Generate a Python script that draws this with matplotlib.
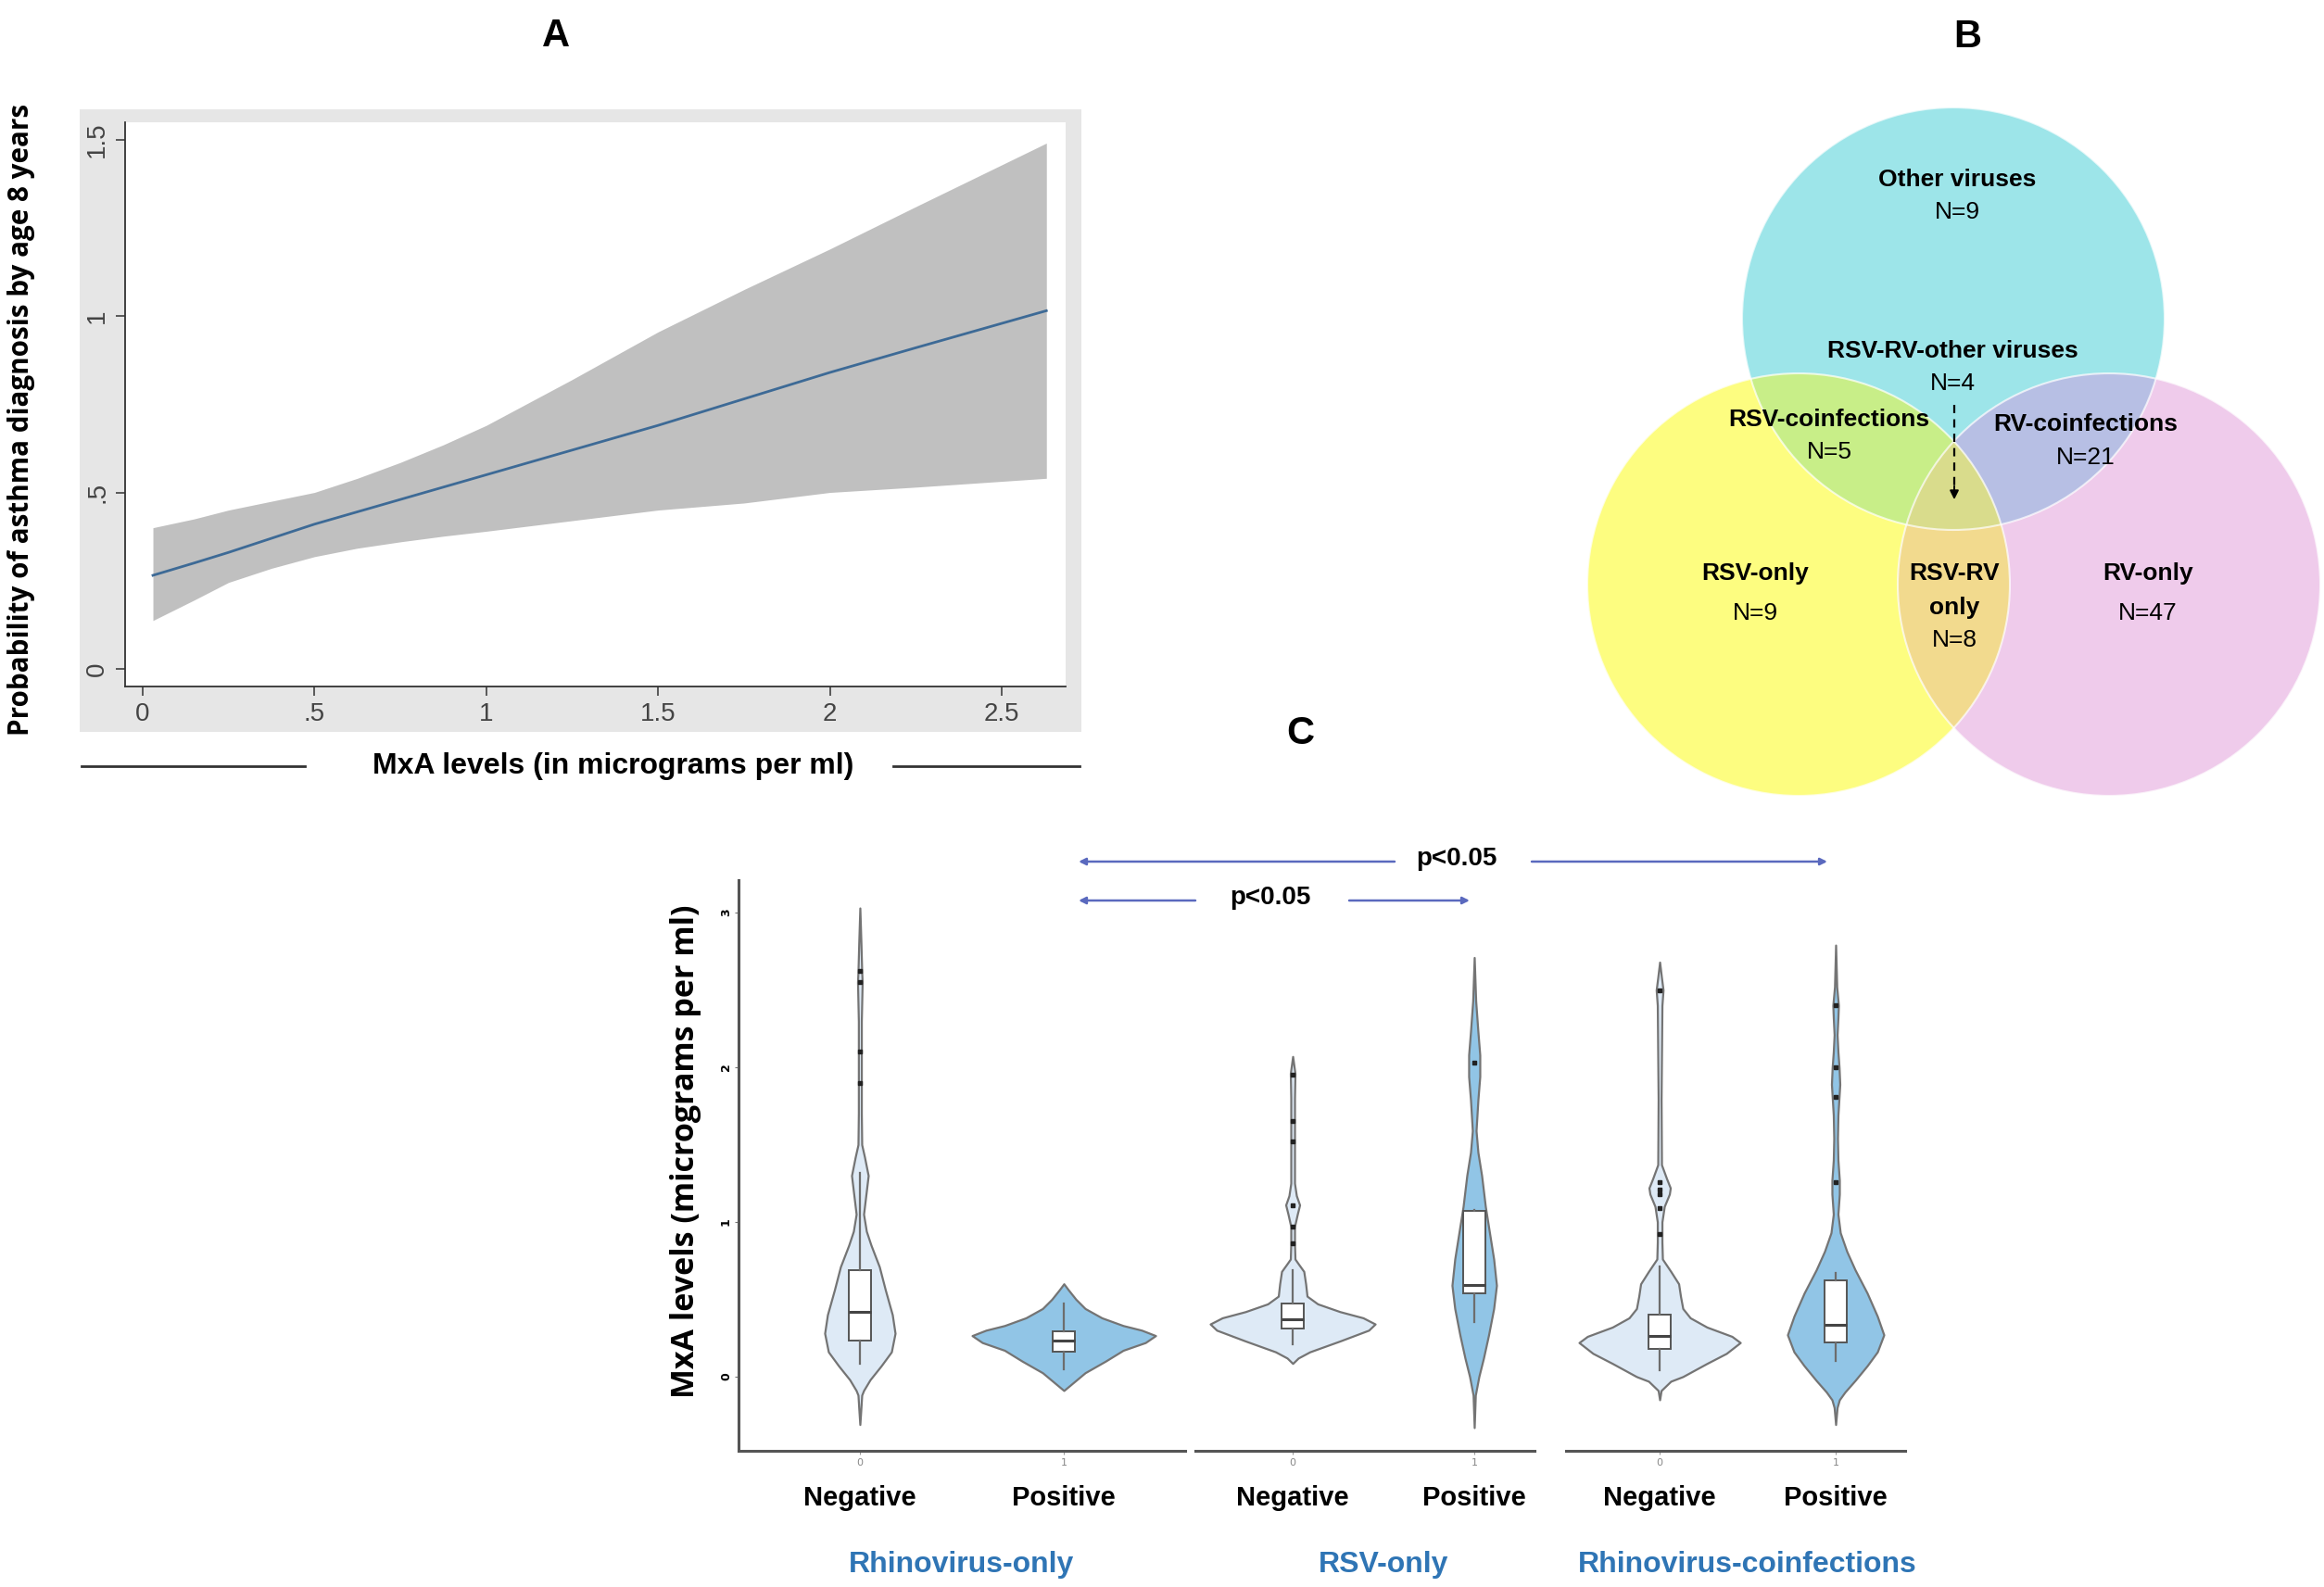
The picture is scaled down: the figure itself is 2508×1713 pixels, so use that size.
import numpy as np
import matplotlib
matplotlib.use("Agg")
import matplotlib.pyplot as plt
from matplotlib import font_manager
from matplotlib.patches import Rectangle, Circle, Polygon

W, H = 2508, 1713
DPI = 100

_names = {f.name for f in font_manager.fontManager.ttflist}
NARROW = "Liberation Sans Narrow" if "Liberation Sans Narrow" in _names else "Liberation Sans"
WIDE = "Open Sans"

# ---------------- panel A: predicted probability vs MxA ----------------
mxa_x = [0.03, 0.15, 0.25, 0.375, 0.5, 0.625, 0.75, 0.875, 1.0, 1.25, 1.5, 1.75, 2.0, 2.25, 2.63]
prob_fit = [0.265, 0.30, 0.33, 0.37, 0.41, 0.445, 0.48, 0.515, 0.55, 0.62, 0.69, 0.765, 0.84,
            0.91, 1.015]
prob_hi = [0.40, 0.425, 0.45, 0.475, 0.50, 0.54, 0.585, 0.635, 0.69, 0.82, 0.955, 1.075, 1.19,
           1.31, 1.49]
prob_lo = [0.137, 0.195, 0.245, 0.285, 0.318, 0.342, 0.36, 0.376, 0.39, 0.42, 0.45, 0.47, 0.50,
           0.515, 0.54]
a_xticks = [0, 0.5, 1, 1.5, 2, 2.5]
a_xticklabels = ["0", ".5", "1", "1.5", "2", "2.5"]
a_yticks = [0, 0.5, 1, 1.5]
a_yticklabels = ["0", ".5", "1", "1.5"]

# ---------------- panel B: Venn counts ----------------
venn_labels = [
    (["Other viruses"], "N=9"),
    (["RSV-RV-other viruses"], "N=4"),
    (["RSV-coinfections"], "N=5"),
    (["RV-coinfections"], "N=21"),
    (["RSV-only"], "N=9"),
    (["RSV-RV", "only"], "N=8"),
    (["RV-only"], "N=47"),
]

# ---------------- panel C: violins (value, half-width in px) ----------------
groups = ["Rhinovirus-only", "RSV-only", "Rhinovirus-coinfections"]
status = ["Negative", "Positive"]

rv_neg_y = [-0.31, -0.20, -0.12, -0.09, -0.02, 0.07, 0.16, 0.28, 0.40, 0.56, 0.71, 0.85, 0.94,
            1.05, 1.15, 1.30, 1.42, 1.50, 1.70, 2.00, 2.30, 2.55, 2.62, 2.80, 3.03]
rv_neg_w = [0, 1.2, 2, 4, 11, 23, 34, 38, 35, 27.5, 21, 12, 7, 4, 6, 9, 5, 2, 1.6, 1.6, 1.6,
            2.5, 2, 1.2, 0]
rv_pos_y = [-0.09, -0.06, 0.025, 0.10, 0.17, 0.22, 0.265, 0.30, 0.33, 0.38, 0.44, 0.50, 0.56, 0.60]
rv_pos_w = [0, 6, 23, 45, 64, 88, 99, 84, 64, 41, 23, 13, 5, 0]
rsv_neg_y = [0.085, 0.12, 0.16, 0.23, 0.30, 0.34, 0.38, 0.42, 0.47, 0.52, 0.60, 0.68, 0.73, 0.76,
             0.86, 0.97, 1.05, 1.11, 1.17, 1.25, 1.55, 1.80, 1.96, 2.07]
rsv_neg_w = [0, 6, 18.5, 51, 82, 89, 76, 51, 27, 15.5, 14, 12, 6, 2.5, 2, 2, 5, 7.5, 4, 2, 2, 2,
             2.5, 0]
rsv_pos_y = [-0.33, -0.12, 0.0, 0.12, 0.27, 0.44, 0.59, 0.76, 0.93, 1.10, 1.30, 1.45, 1.59, 1.79,
             1.94, 2.08, 2.23, 2.43, 2.71]
rsv_pos_w = [0, 1.2, 5, 10, 15.5, 21, 24, 21, 16.5, 12, 8, 4, 2, 4, 6, 6, 4, 1.6, 0]
co_neg_y = [-0.15, -0.09, -0.03, 0.0, 0.085, 0.15, 0.22, 0.26, 0.32, 0.38, 0.44, 0.52, 0.60, 0.68,
            0.76, 0.87, 1.00, 1.10, 1.18, 1.22, 1.28, 1.37, 1.79, 2.40, 2.50, 2.58, 2.68]
co_neg_w = [0, 1.6, 12, 25, 51, 72, 87, 78, 51, 33, 25, 22.5, 20.5, 12, 3, 2.5, 2.5, 5, 10.5,
            11.5, 7.5, 2, 1.6, 2.5, 3.7, 2, 0]
co_pos_y = [-0.31, -0.20, -0.15, -0.10, -0.025, 0.07, 0.16, 0.27, 0.39, 0.54, 0.69, 0.81, 0.93,
            1.05, 1.18, 1.27, 1.40, 1.54, 1.69, 1.81, 1.89, 2.00, 2.10, 2.21, 2.32, 2.40, 2.52, 2.79]
co_pos_w = [0, 1.6, 4, 10, 21, 34, 45, 52, 45, 34, 21, 12, 5, 2.5, 4, 4, 2.5, 2, 2.5, 3.7, 4.5,
            3.7, 2.5, 1.6, 2.5, 3, 1.2, 0]

# box stats: q1, median, q3, lower whisker, upper whisker
rv_neg_box = (0.23, 0.42, 0.69, 0.085, 1.32)
rv_pos_box = (0.16, 0.23, 0.29, 0.05, 0.47)
rsv_neg_box = (0.31, 0.37, 0.47, 0.21, 0.69)
rsv_pos_box = (0.54, 0.59, 1.07, 0.355, 1.08)
co_neg_box = (0.18, 0.26, 0.40, 0.04, 0.71)
co_pos_box = (0.22, 0.335, 0.62, 0.10, 0.67)

rv_neg_out = [1.90, 2.10, 2.55, 2.62]
rv_pos_out = []
rsv_neg_out = [0.86, 0.97, 1.11, 1.52, 1.65, 1.95]
rsv_pos_out = [2.03]
co_neg_out = [0.92, 1.09, 1.18, 1.21, 1.26, 2.50]
co_pos_out = [1.26, 1.81, 2.00, 2.40]

violins = [
    [(rv_neg_y, rv_neg_w, rv_neg_box, rv_neg_out), (rv_pos_y, rv_pos_w, rv_pos_box, rv_pos_out)],
    [(rsv_neg_y, rsv_neg_w, rsv_neg_box, rsv_neg_out), (rsv_pos_y, rsv_pos_w, rsv_pos_box, rsv_pos_out)],
    [(co_neg_y, co_neg_w, co_neg_box, co_neg_out), (co_pos_y, co_pos_w, co_pos_box, co_pos_out)],
]
c_yticks = [0, 1, 2, 3]


fig = plt.figure(figsize=(W / DPI, H / DPI), dpi=DPI)

# full-figure canvas in pixel coordinates (top-left origin)
canvas = fig.add_axes([0, 0, 1, 1])
canvas.set_xlim(0, W)
canvas.set_ylim(H, 0)
canvas.axis("off")
canvas.set_zorder(-1)


def px_axes(x0, y0, x1, y1):
    return fig.add_axes([x0 / W, 1 - y1 / H, (x1 - x0) / W, (y1 - y0) / H])


def label(x, y, s, size, family=NARROW, weight="bold", color="black", **kw):
    canvas.text(x, y, s, ha="center", va="center", fontsize=size, family=family,
                fontweight=weight, color=color, **kw)


# ---------------- panel A ----------------
canvas.add_patch(Rectangle((86, 118), 1081, 672, facecolor="#e6e6e6", edgecolor="none"))
axA = px_axes(135, 132, 1150, 741)
axA.set_facecolor("white")
axA.fill_between(mxa_x, prob_lo, prob_hi, color="#c0c0c0", lw=0)
axA.plot(mxa_x, prob_fit, color="#3d6a96", lw=2)
axA.set_xlim(-0.051, 2.686)
axA.set_ylim(-0.050, 1.549)
for s in ["top", "right"]:
    axA.spines[s].set_visible(False)
for s in ["left", "bottom"]:
    axA.spines[s].set_color("#333333")
    axA.spines[s].set_linewidth(1.3)
axA.set_xticks(a_xticks, a_xticklabels)
axA.set_yticks(a_yticks, a_yticklabels)
axA.tick_params(length=7, width=1.1, color="#333333", labelcolor="#444444",
                labelsize=20, pad=5)
for t in axA.get_xticklabels() + axA.get_yticklabels():
    t.set_family(NARROW)
for t in axA.get_yticklabels():
    t.set_rotation(90)
    t.set_va("center")

label(600, 39, "A", 30, family="Liberation Sans")
label(23, 453, "Probability of asthma diagnosis by age 8 years", 21.3, family=WIDE,
      rotation=90)
label(662, 827, "MxA levels (in micrograms per ml)", 23)
canvas.plot([88, 329], [827, 827], color="#333333", lw=2)
canvas.plot([964, 1165], [827, 827], color="#333333", lw=2)

# ---------------- panel B ----------------
r = 228
c_other, c_rsv, c_rv = (2108, 344), (1941, 631), (2276, 631)
base = [(c_other, "#9de5e9"), (c_rsv, "#fdfd80"), (c_rv, "#efcbeb")]


def disc_overlap(centers, radius, n=1440):
    pts = []
    t = np.linspace(0, 2 * np.pi, n, endpoint=False)
    for cx, cy in centers:
        p = np.c_[cx + radius * np.cos(t), cy + radius * np.sin(t)]
        ok = np.ones(len(p), bool)
        for ox, oy in centers:
            ok &= np.hypot(p[:, 0] - ox, p[:, 1] - oy) <= radius + 1e-6
        pts.append(p[ok])
    pts = np.vstack(pts)
    c = pts.mean(axis=0)
    order = np.argsort(np.arctan2(pts[:, 1] - c[1], pts[:, 0] - c[0]))
    return pts[order]


for c, col in base:
    canvas.add_patch(Circle(c, r, facecolor=col, edgecolor="none"))
for pair, col in [((c_other, c_rsv), "#c8ee88"), ((c_other, c_rv), "#b7bfe4"),
                  ((c_rsv, c_rv), "#f2da8e")]:
    canvas.add_patch(Polygon(disc_overlap(pair, r), closed=True, facecolor=col, edgecolor="none"))
canvas.add_patch(Polygon(disc_overlap((c_other, c_rsv, c_rv), r), closed=True,
                         facecolor="#d9dc8c", edgecolor="none"))
for c, col in base:
    canvas.add_patch(Circle(c, r, facecolor="none", edgecolor="white", lw=1.5, alpha=0.7))

venn_pos = [(2112, [194], 229), (2107, [379], 414), (1974, [453], 488), (2251, [458], 494),
            (1894, [619], 662), (2109, [619, 656], 691), (2318, [619], 662)]
for (names, n), (x, ys, y2) in zip(venn_labels, venn_pos):
    for name, y in zip(names, ys):
        label(x, y, name, 19)
    label(x, y2, n, 19, weight="normal")
canvas.plot([2109, 2109], [437, 525], color="black", lw=1.6, ls=(0, (4, 3)))
canvas.annotate("", xy=(2109, 542), xytext=(2109, 522),
                arrowprops=dict(arrowstyle="-|>", color="black", lw=1.4, mutation_scale=14))
label(2123, 40, "B", 30, family="Liberation Sans")

# ---------------- panel C ----------------
label(1403, 792, "C", 30, family="Liberation Sans")
c_axes_px = [(797, 1279), (1290, 1656), (1690, 2056)]
c_xlims = [(-0.595, 1.595), (-0.536, 1.332), (-0.532, 1.395)]
fills = ["#deeaf6", "#91c5e6"]
edge = "#747474"

for gi, ((x0, x1), xl) in enumerate(zip(c_axes_px, c_xlims)):
    ax = px_axes(x0, 950, x1, 1566)
    ax.set_facecolor("none")
    ax.set_xlim(*xl)
    ax.set_ylim(-0.48, 3.21)
    ppu = (x1 - x0) / (xl[1] - xl[0])
    for si, (vy, vw, box, outs) in enumerate(violins[gi]):
        hw = np.array(vw) / ppu
        ax.fill_betweenx(vy, si - hw, si + hw, facecolor=fills[si], edgecolor=edge,
                         lw=1.6, zorder=2)
        q1, med, q3, lo, hi = box
        ax.bxp([dict(q1=q1, med=med, q3=q3, whislo=lo, whishi=hi, fliers=[])],
               positions=[si], widths=24 / ppu, patch_artist=True, showfliers=False,
               showcaps=False, manage_ticks=False,
               boxprops=dict(facecolor="white", edgecolor="#555555", lw=1.4),
               medianprops=dict(color="#444444", lw=2.2),
               whiskerprops=dict(color="#6d6d6d", lw=1.6), zorder=3)
        if outs:
            ax.plot([si] * len(outs), outs, "s", ms=3.5, color="#222222", zorder=4)
        canvas.text(x0 + (si - xl[0]) * ppu, 1617, status[si], ha="center", va="center",
                    fontsize=21, family=NARROW, fontweight="bold")
    label(x0 + (0.5 - xl[0]) * ppu, 1689, groups[gi], 23, color="#2f75b5")
    for s in ["top", "right", "left"]:
        ax.spines[s].set_visible(False)
    ax.spines["bottom"].set_color("#555555")
    ax.spines["bottom"].set_linewidth(2.2)
    ax.set_xticks([0, 1], ["0", "1"])
    ax.tick_params(axis="x", length=3, color="#999999", labelcolor="#888888",
                   labelsize=8, pad=3)
    if gi == 0:
        ax.spines["left"].set_visible(True)
        ax.spines["left"].set_color("#555555")
        ax.spines["left"].set_linewidth(2.2)
        ax.set_yticks(c_yticks, [str(t) for t in c_yticks])
        ax.tick_params(axis="y", length=3, color="#777777", labelsize=9, pad=2)
        for t in ax.get_yticklabels():
            t.set_rotation(90)
            t.set_va("center")
            t.set_fontweight("bold")
    else:
        ax.set_yticks([])

label(740, 1243, "MxA levels (micrograms per ml)", 24.5, family=WIDE, rotation=90)

# significance arrows
arrow_col = "#5a69be"
for y, left, gap_l, gap_r, right, tx in [(930, 1164, 1505, 1653, 1972, 1572),
                                         (972, 1164, 1290, 1456, 1586, 1371)]:
    for start, end in [(gap_l, left), (gap_r, right)]:
        canvas.annotate("", xy=(end, y), xytext=(start, y),
                        arrowprops=dict(arrowstyle="-|>", color=arrow_col, lw=1.8,
                                        mutation_scale=11, shrinkA=0, shrinkB=0))
    label(tx, y - 3, "p<0.05", 20)

fig.savefig("out.png", dpi=DPI, facecolor="white")
